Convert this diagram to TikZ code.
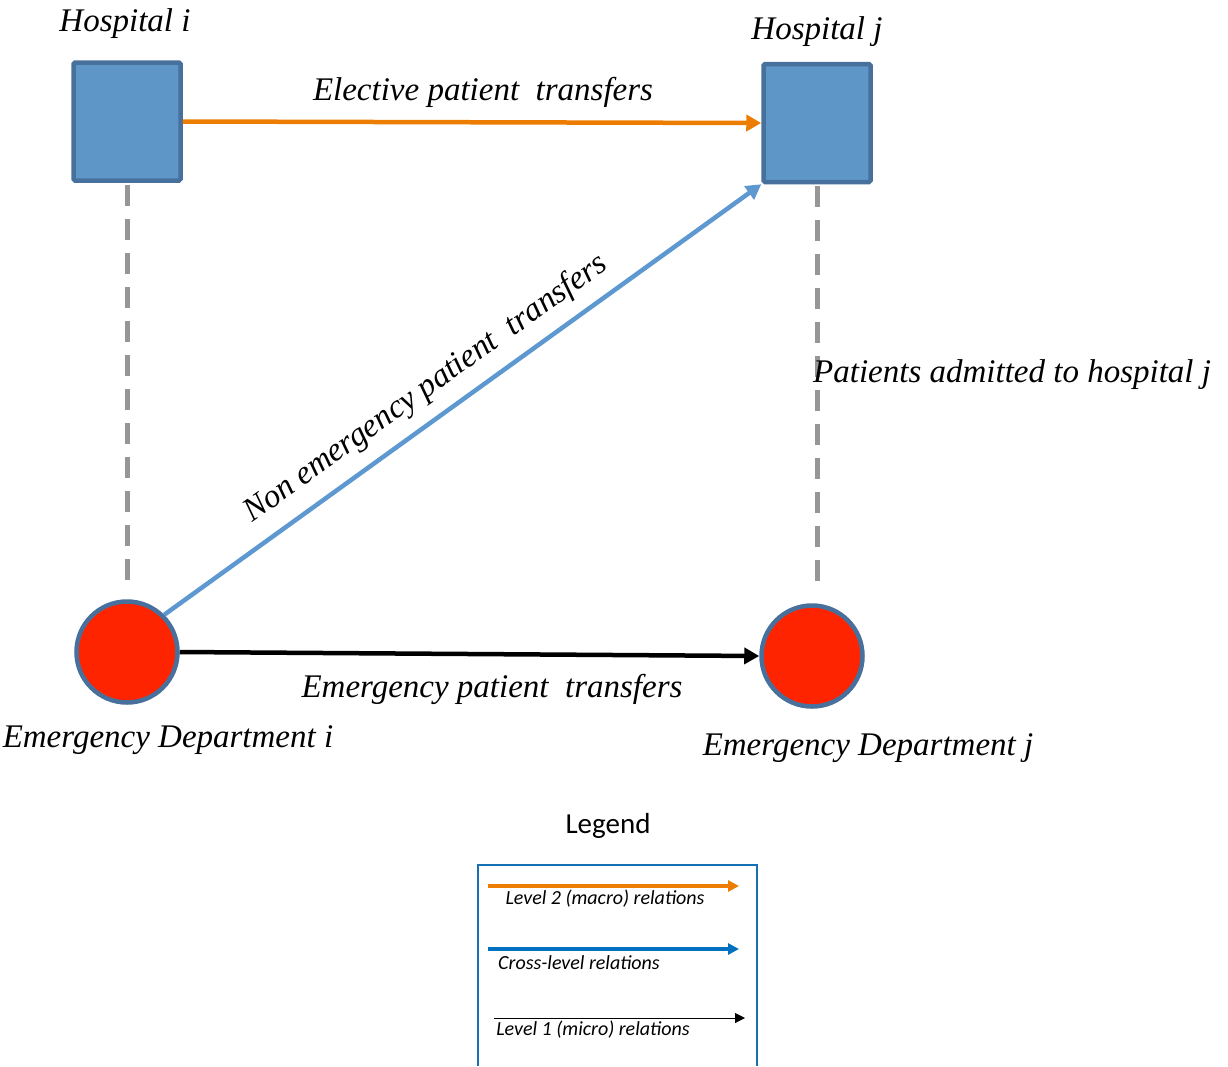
\documentclass[tikz,border=0pt]{standalone}
\usepackage{fontspec}
\setmainfont{Liberation Serif}
\newfontfamily\calfont{Carlito}
\usetikzlibrary{arrows.meta}
\definecolor{boxfill}{HTML}{5F96C8}
\definecolor{boxline}{HTML}{48709C}
\definecolor{edred}{HTML}{FF2400}
\definecolor{orng}{HTML}{ED7D00}
\definecolor{lblue}{HTML}{5E98D0}
\definecolor{legblue}{HTML}{0070C0}
\definecolor{dgrey}{HTML}{969696}
\begin{document}
\begin{tikzpicture}[x=1pt,y=-1pt,
  hosp/.style={draw=boxline,fill=boxfill,line width=4.5pt,rounded corners=1.5pt,minimum width=107pt,minimum height=118pt,inner sep=0pt},
  ednode/.style={circle,draw=boxline,fill=edred,line width=4.5pt,minimum size=101pt,inner sep=0pt},
  lbl/.style={font=\fontsize{33}{36}\selectfont\itshape,inner sep=0pt},
  leglbl/.style={font=\calfont\fontsize{20}{23}\selectfont\itshape,inner sep=0pt},
  arr/.style={line width=4.5pt,-{Triangle[length=15pt,width=16pt]}},
  greydash/.style={draw=dgrey,line width=5pt,dash pattern=on 21pt off 13pt}
]
\useasboundingbox (0,0) rectangle (1228,1066);
\node[hosp] (hi) at (127,121.5) {};
\node[hosp] (hj) at (817,123) {};
\node[ednode] (edi) at (127,652) {};
\node[ednode] (edj) at (812,656) {};
\coordinate (hib) at (127,185);
\coordinate (edit) at (127,586);
\coordinate (hjb) at (817,186);
\coordinate (edjt) at (817,586);
\draw[greydash] (hib) -- (edit);
\draw[greydash] (hjb) -- (edjt);
\draw[arr,orng] (hi.east) -- (hj.west);
\draw[arr,lblue] (edi.45) -- (hj.south west);
\draw[arr,black] (edi.east) -- (edj.west);
\node[lbl] (thi) at (125,24) {Hospital i};
\node[lbl] (thj) at (817,32) {Hospital j};
\node[lbl] (tel) at (483,92) {Elective patient\ \ transfers};
\node[lbl,rotate=35.5] (tne) at (426,389) {Non emergency patient\ \ transfers};
\node[lbl,anchor=west] (tpa) at (813,375) {Patients admitted to hospital j};
\node[lbl] (tem) at (492,689) {Emergency patient\ \ transfers};
\node[lbl] (tedi) at (168,740) {Emergency Department i};
\node[lbl] (tedj) at (868,748) {Emergency Department j};
% legend
\node[font=\calfont\fontsize{29}{32}\selectfont,inner sep=0pt] (leg) at (608,826) {Legend};
\coordinate (lb1) at (478,1066);
\coordinate (lb2) at (478,865);
\coordinate (lb3) at (757,865);
\coordinate (lb4) at (757,1066);
\draw[legblue!70!boxline,line width=1.5pt] (lb1) -- (lb2) -- (lb3) -- (lb4);
\coordinate (o1) at (488,886);
\coordinate (o2) at (739,886);
\coordinate (b1) at (488,949);
\coordinate (b2) at (739,949);
\coordinate (k1) at (494,1018);
\coordinate (k2) at (745,1018);
\draw[orng,line width=3.5pt,-{Triangle[length=11pt,width=11pt]}] (o1) -- (o2);
\draw[legblue,line width=3.5pt,-{Triangle[length=11pt,width=11pt]}] (b1) -- (b2);
\draw[black,line width=1pt,-{Triangle[length=10pt,width=10pt]}] (k1) -- (k2);
\node[leglbl] (l2) at (605,899) {Level 2 (macro) relations};
\node[leglbl] (lc) at (579,963) {Cross-level relations};
\node[leglbl] (l1) at (593,1030) {Level 1 (micro) relations};
\end{tikzpicture}
\end{document}
